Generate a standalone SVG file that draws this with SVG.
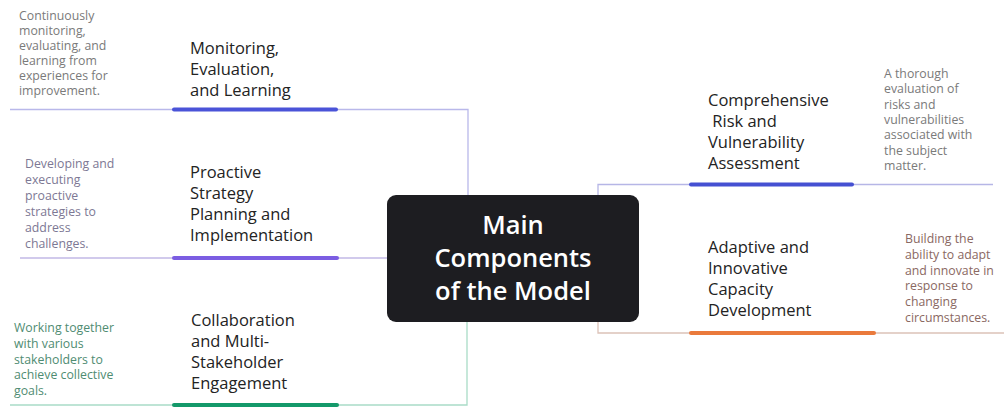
<svg xmlns="http://www.w3.org/2000/svg" width="1004" height="407" viewBox="0 0 1004 407">
  <style>
    .title { font-family: "Open Sans", "Liberation Sans", sans-serif; font-size: 16.5px; fill: #232323; }
    .desc { font-family: "Open Sans", "Liberation Sans", sans-serif; font-size: 12.3px; }
    .hub { font-family: "Open Sans", "Liberation Sans", sans-serif; font-size: 25.5px; font-weight: 600; fill: #ffffff; text-anchor: middle; }
    .thin { fill: none; stroke-width: 1.3; }
    .bar { fill: none; stroke-width: 4; stroke-linecap: round; }
  </style>
  <rect width="1004" height="407" fill="#ffffff"/>

  <!-- connectors: thin branch lines from the hub, then the coloured underline bars -->
  <g id="connectors">
    <path class="thin" d="M468,195 V109.5 H10" stroke="#b9b8ea"/>
    <path class="thin" d="M387,258 H20" stroke="#c2b9e6"/>
    <path class="thin" d="M467,322 V405 H10" stroke="#a9dcc7"/>
    <path class="thin" d="M598,195 V184.5 H993" stroke="#b6b6e6"/>
    <path class="thin" d="M598,322 V333 H1004" stroke="#dcc2b8"/>
    <path class="bar" d="M174,109.5 H336" stroke="#4a53d8"/>
    <path class="bar" d="M174,258 H337" stroke="#7b5de2"/>
    <path class="bar" d="M174,405 H337" stroke="#14996a"/>
    <path class="bar" d="M691,184.5 H852" stroke="#4550d2"/>
    <path class="bar" d="M691,333 H874" stroke="#ea7a3c"/>
  </g>

  <!-- central hub -->
  <g id="hub">
    <rect x="387" y="195" width="252" height="127" rx="9" fill="#1d1d21"/>
    <text class="hub" x="513" y="234">Main</text>
    <text class="hub" x="513" y="267">Components</text>
    <text class="hub" x="513" y="300">of the Model</text>
  </g>

  <g id="node-monitoring">
    <text class="title"><tspan x="190" y="53.5">Monitoring,</tspan><tspan x="190" y="74.5">Evaluation,</tspan><tspan x="190" y="95.5">and Learning</tspan></text>
    <text class="desc" fill="#7a7a7a"><tspan x="19" y="20">Continuously</tspan><tspan x="19" y="35">monitoring,</tspan><tspan x="19" y="50">evaluating, and</tspan><tspan x="19" y="65">learning from</tspan><tspan x="19" y="80">experiences for</tspan><tspan x="19" y="95">improvement.</tspan></text>
  </g>

  <g id="node-strategy">
    <text class="title"><tspan x="190" y="178">Proactive</tspan><tspan x="190" y="199">Strategy</tspan><tspan x="190" y="220">Planning and</tspan><tspan x="190" y="241">Implementation</tspan></text>
    <text class="desc" fill="#7d7894"><tspan x="25" y="168">Developing and</tspan><tspan x="25" y="184">executing</tspan><tspan x="25" y="200">proactive</tspan><tspan x="25" y="216">strategies to</tspan><tspan x="25" y="232">address</tspan><tspan x="25" y="248">challenges.</tspan></text>
  </g>

  <g id="node-collaboration">
    <text class="title"><tspan x="191" y="326">Collaboration</tspan><tspan x="191" y="347">and Multi-</tspan><tspan x="191" y="368">Stakeholder</tspan><tspan x="191" y="389">Engagement</tspan></text>
    <text class="desc" fill="#4f8c72"><tspan x="14" y="332">Working together</tspan><tspan x="14" y="348">with various</tspan><tspan x="14" y="363.5">stakeholders to</tspan><tspan x="14" y="379">achieve collective</tspan><tspan x="14" y="395">goals.</tspan></text>
  </g>

  <g id="node-risk">
    <text class="title"><tspan x="708" y="105.5">Comprehensive</tspan><tspan x="708" y="126.5" xml:space="preserve"> Risk and</tspan><tspan x="708" y="147.5">Vulnerability</tspan><tspan x="708" y="168.5">Assessment</tspan></text>
    <text class="desc" fill="#7a7a7a"><tspan x="884" y="78">A thorough</tspan><tspan x="884" y="93.3">evaluation of</tspan><tspan x="884" y="108.7">risks and</tspan><tspan x="884" y="124">vulnerabilities</tspan><tspan x="884" y="139.3">associated with</tspan><tspan x="884" y="154.7">the subject</tspan><tspan x="884" y="170">matter.</tspan></text>
  </g>

  <g id="node-adaptive">
    <text class="title"><tspan x="708" y="253">Adaptive and</tspan><tspan x="708" y="274">Innovative</tspan><tspan x="708" y="295">Capacity</tspan><tspan x="708" y="316">Development</tspan></text>
    <text class="desc" fill="#8a6862"><tspan x="905" y="243">Building the</tspan><tspan x="905" y="259">ability to adapt</tspan><tspan x="905" y="274.5">and innovate in</tspan><tspan x="905" y="290">response to</tspan><tspan x="905" y="306">changing</tspan><tspan x="905" y="322">circumstances.</tspan></text>
  </g>
</svg>
